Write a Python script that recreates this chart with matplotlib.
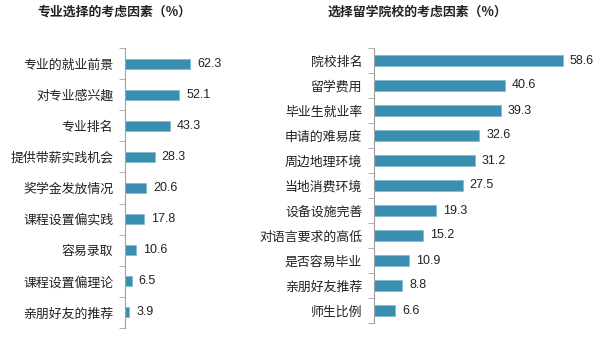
import numpy as np
from matplotlib import pyplot as plt

plt.rcParams['font.family'] = ['Noto Sans CJK SC', 'DejaVu Sans']

major_labels = ["专业的就业前景", "对专业感兴趣", "专业排名", "提供带薪实践机会",
                "奖学金发放情况", "课程设置偏实践", "容易录取", "课程设置偏理论",
                "亲朋好友的推荐"]
major_values = [62.3, 52.1, 43.3, 28.3, 20.6, 17.8, 10.6, 6.5, 3.9]

school_labels = ["院校排名", "留学费用", "毕业生就业率", "申请的难易度", "周边地理环境",
                 "当地消费环境", "设备设施完善", "对语言要求的高低", "是否容易毕业",
                 "亲朋好友推荐", "师生比例"]
school_values = [58.6, 40.6, 39.3, 32.6, 31.2, 27.5, 19.3, 15.2, 10.9, 8.8, 6.6]

bar_color = "#3a8fb0"
spine_color = "#a0a0a0"

W, H = 611, 338
fig = plt.figure(figsize=(W / 100, H / 100), dpi=100)


def draw(rect_px, labels, values, px_per_unit, bar_h, title, title_x):
    left, top, right, bottom = rect_px
    ax = fig.add_axes([left / W, 1 - bottom / H, (right - left) / W, (bottom - top) / H])
    n = len(labels)
    y = np.arange(n)
    ax.barh(y, values, height=bar_h, color=bar_color, edgecolor="#7fb7cc", linewidth=0.5)
    ax.set_ylim(n - 0.5, -0.5)
    ax.set_xlim(0, (right - left) / px_per_unit)
    for yi, v in zip(y, values):
        ax.text(v + 7 / px_per_unit, yi, f"{v:.1f}", va="center", ha="left",
                fontsize=9, family="Liberation Sans", color="#222222")
    ax.set_yticks(y)
    ax.set_yticklabels(labels, fontsize=9.3, color="#222222")
    ax.set_yticks(np.arange(n + 1) - 0.5, minor=True)
    ax.tick_params(axis="y", which="major", length=0, pad=8.5)
    ax.tick_params(axis="y", which="minor", length=4, color=spine_color, direction="out")
    ax.set_xticks([])
    for s in ["top", "right", "bottom"]:
        ax.spines[s].set_visible(False)
    ax.spines["left"].set_color(spine_color)
    fig.text(title_x / W, 1 - 12 / H, title, ha="center", va="center",
             fontsize=9.3, fontweight="bold", color="#222222")


draw((125, 48, 300, 328), major_labels, major_values, 1.043, 0.32,
     "专业选择的考虑因素（%）", 114)
draw((374, 48, 605, 323), school_labels, school_values, 3.225, 0.42,
     "选择留学院校的考虑因素（%）", 417)

plt.savefig("out.png", dpi=100)
